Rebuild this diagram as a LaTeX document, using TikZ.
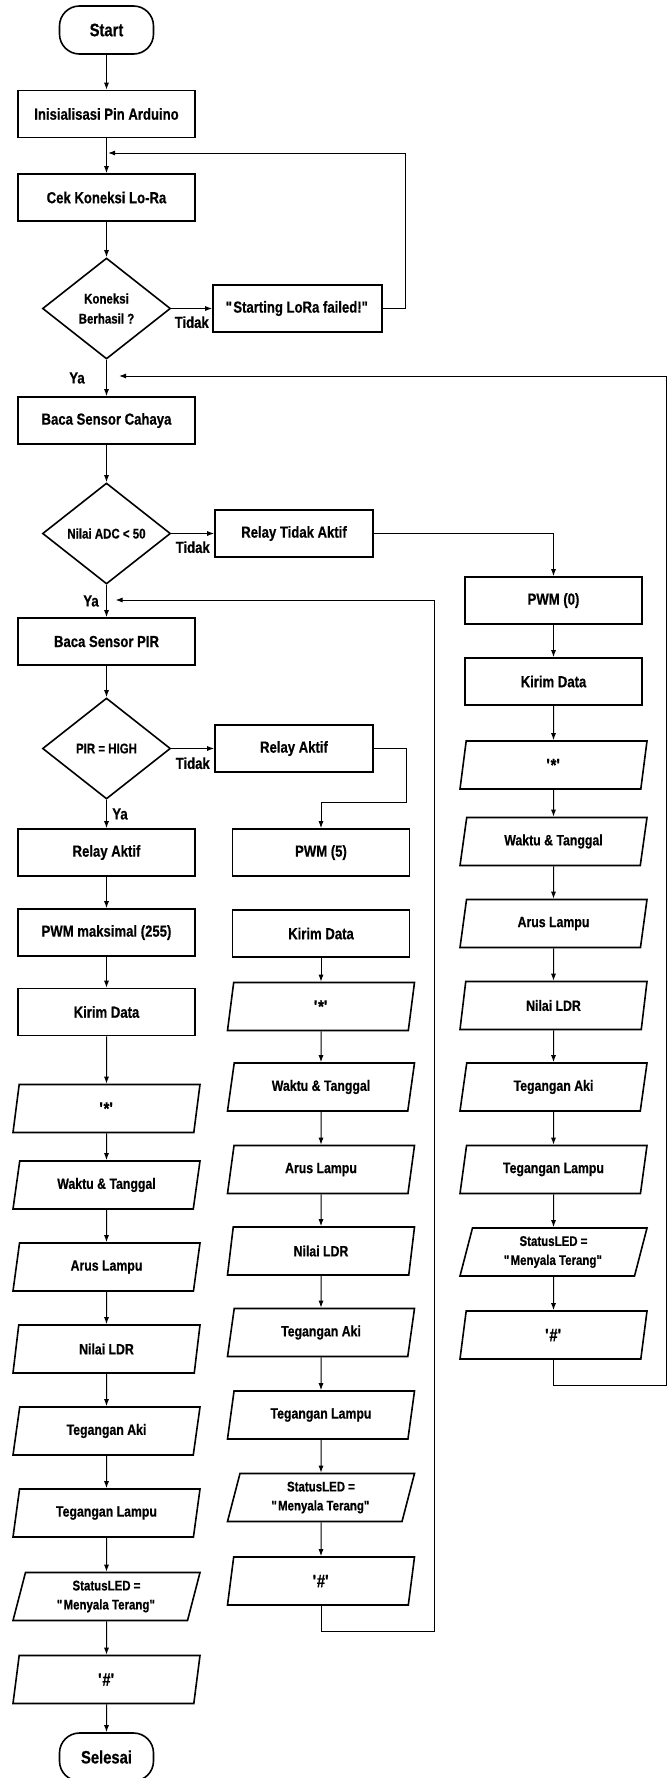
\documentclass[tikz,border=0pt]{standalone}
\usepackage{fontspec}
\setmainfont{Liberation Sans}[FakeStretch=0.82,BoldFeatures={FakeBold=0.6}]
\usetikzlibrary{arrows.meta,shapes.geometric,positioning}

\begin{document}
\begin{tikzpicture}[x=1pt,y=-1pt,node distance=82pt,on grid,line width=1pt,
    >={Latex[length=7pt,width=5pt]},
    term/.style={rectangle,rounded corners=20pt,draw,line width=1.6pt,minimum width=94pt,minimum height=48pt,font=\bfseries\fontsize{18}{20}\selectfont},
    proc/.style={rectangle,draw,line width=1.6pt,minimum width=177pt,minimum height=47pt,font=\bfseries\fontsize{16}{18}\selectfont},
    relay/.style={proc,minimum width=158pt},
    decision/.style={diamond,draw,line width=1.6pt,aspect=1.27,minimum width=128pt,minimum height=101pt,inner sep=0pt,align=center,font=\bfseries\fontsize{14}{20}\selectfont},
    io/.style={trapezium,trapezium left angle=72,trapezium right angle=108,trapezium stretches body,draw,line width=1.6pt,minimum width=187pt,minimum height=48pt,align=center,font=\bfseries\fontsize{15}{19}\selectfont},
    status/.style={font=\bfseries\fontsize{14}{19}\selectfont},
    pagar/.style={font=\bfseries\fontsize{18}{20}\selectfont},
    jawab/.style={font=\bfseries\fontsize{16}{18}\selectfont}]
    \useasboundingbox (0,0) rectangle (668,1778);
        % kolom kiri
        \node[term] (start) at (106.5,30) {Start};
        \node[proc] (init) [below=84pt of start] {Inisialisasi Pin Arduino};
        \node[proc] (cek) [below=83.5pt of init] {Cek Koneksi Lo-Ra};
        \node[decision] (koneksi) [below=111pt of cek] {Koneksi\\Berhasil ?};
        \node[proc,minimum width=169pt] (gagal) [right=191pt of koneksi] {\textquotedbl Starting LoRa failed!\textquotedbl};
        \node[proc] (cahaya) [below=112pt of koneksi] {Baca Sensor Cahaya};
        \node[decision] (adc) [below=113pt of cahaya] {Nilai ADC < 50};
        \node[relay] (relaymati) [right=187.5pt of adc] {Relay Tidak Aktif};
        \node[proc] (pir) [below=108pt of adc] {Baca Sensor PIR};
        \node[decision] (pirhigh) [below=107pt of pir] {PIR = HIGH};
        \node[relay] (relayhidup) [right=187.5pt of pirhigh] {Relay Aktif};
        \node[proc] (relaypenuh) [below=104pt of pirhigh] {Relay Aktif};
        \node[proc] (pwmmaks) [below=80pt of relaypenuh] {PWM maksimal (255)};
        \node[proc] (kirimA) [below=79.5pt of pwmmaks] {Kirim Data};
        \node[io,pagar] (bintangA) [below=96.5pt of kirimA] {\textquotesingle*\textquotesingle};
        \node[io] (waktuA) [below=76.5pt of bintangA] {Waktu \& Tanggal};
        \node[io] (arusA) [below=of waktuA] {Arus Lampu};
        \node[io] (ldrA) [below=of arusA] {Nilai LDR};
        \node[io] (akiA) [below=of ldrA] {Tegangan Aki};
        \node[io] (lampuA) [below=of akiA] {Tegangan Lampu};
        \node[io,status] (ledA) [below=83.5pt of lampuA] {StatusLED =\\\textquotedbl Menyala Terang\textquotedbl};
        \node[io,pagar] (pagarA) [below=83pt of ledA] {\textquotesingle\#\textquotesingle};
        \node[term] (selesai) [below=77.5pt of pagarA] {Selesai};
        % kolom tengah
        \node[proc] (pwmlima) [right=214.5pt of relaypenuh] {PWM (5)};
        \node[proc] (kirimB) [below=81pt of pwmlima] {Kirim Data};
        \node[io,pagar] (bintangB) [below=73pt of kirimB] {\textquotesingle*\textquotesingle};
        \node[io] (waktuB) [below=80.5pt of bintangB] {Waktu \& Tanggal};
        \node[io] (arusB) [below=82.5pt of waktuB] {Arus Lampu};
        \node[io] (ldrB) [below=81.5pt of arusB] {Nilai LDR};
        \node[io] (akiB) [below=81.5pt of ldrB] {Tegangan Aki};
        \node[io] (lampuB) [below=82.5pt of akiB] {Tegangan Lampu};
        \node[io,status] (ledB) [below=82.5pt of lampuB] {StatusLED =\\\textquotedbl Menyala Terang\textquotedbl};
        \node[io,pagar] (pagarB) [below=83.5pt of ledB] {\textquotesingle\#\textquotesingle};
        % kolom kanan
        \node[proc] (pwmnol) [below right=67pt and 259.5pt of relaymati] {PWM (0)};
        \node[proc] (kirimC) [below=81pt of pwmnol] {Kirim Data};
        \node[io,pagar] (bintangC) [below=83.5pt of kirimC] {\textquotesingle*\textquotesingle};
        \node[io] (waktuC) [below=76.5pt of bintangC] {Waktu \& Tanggal};
        \node[io] (arusC) [below=of waktuC] {Arus Lampu};
        \node[io] (ldrC) [below=of arusC] {Nilai LDR};
        \node[io] (akiC) [below=81.5pt of ldrC] {Tegangan Aki};
        \node[io] (lampuC) [below=82.5pt of akiC] {Tegangan Lampu};
        \node[io,status] (ledC) [below=82.5pt of lampuC] {StatusLED =\\\textquotedbl Menyala Terang\textquotedbl};
        \node[io,pagar] (pagarC) [below=83pt of ledC] {\textquotesingle\#\textquotesingle};
        % titik belok
        \coordinate (balik1) at (108,153);
        \coordinate (balik2) at (119,376);
        \coordinate (balik3) at (115.5,600);
        \coordinate (pojokA) at (405,153);
        \coordinate (pojokB) at (434,1631);
        \coordinate (pojokC) at (666,1385);
        \coordinate (siku) at (406.5,802);
        % panah
        \path[->] (start) edge (init);
        \path[->] (init) edge (cek);
        \path[->] (cek) edge (koneksi);
        \path[->] (koneksi) edge node[jawab,below,yshift=-4pt] {Tidak} (gagal);
        \path[->] (koneksi) edge node[jawab,left,xshift=-18pt] {Ya} (cahaya);
        \path[->] (cahaya) edge (adc);
        \path[->] (adc) edge node[jawab,below,yshift=-4pt] {Tidak} (relaymati);
        \path[->] (adc) edge node[jawab,left,xshift=-4pt] {Ya} (pir);
        \path[->] (pir) edge (pirhigh);
        \path[->] (pirhigh) edge node[jawab,below,yshift=-5pt] {Tidak} (relayhidup);
        \path[->] (pirhigh) edge node[jawab,right,xshift=2pt] {Ya} (relaypenuh);
        \path[->] (relaypenuh) edge (pwmmaks);
        \path[->] (pwmmaks) edge (kirimA);
        \path[->] (kirimA) edge (bintangA);
        \path[->] (bintangA) edge (waktuA);
        \path[->] (waktuA) edge (arusA);
        \path[->] (arusA) edge (ldrA);
        \path[->] (ldrA) edge (akiA);
        \path[->] (akiA) edge (lampuA);
        \path[->] (lampuA) edge (ledA);
        \path[->] (ledA) edge (pagarA);
        \path[->] (pagarA) edge (selesai);
        \path[->] (kirimB) edge (bintangB);
        \path[->] (bintangB) edge (waktuB);
        \path[->] (waktuB) edge (arusB);
        \path[->] (arusB) edge (ldrB);
        \path[->] (ldrB) edge (akiB);
        \path[->] (akiB) edge (lampuB);
        \path[->] (lampuB) edge (ledB);
        \path[->] (ledB) edge (pagarB);
        \path[->] (pwmnol) edge (kirimC);
        \path[->] (kirimC) edge (bintangC);
        \path[->] (bintangC) edge (waktuC);
        \path[->] (waktuC) edge (arusC);
        \path[->] (arusC) edge (ldrC);
        \path[->] (ldrC) edge (akiC);
        \path[->] (akiC) edge (lampuC);
        \path[->] (lampuC) edge (ledC);
        \path[->] (ledC) edge (pagarC);
        \draw[->] (gagal.east) -| (pojokA) -- (balik1);
        \draw[->] (relaymati.east) -| (pwmnol.north);
        \draw[->] (relayhidup.east) -| (siku) -| (pwmlima.north);
        \draw[->] (pagarB.south) |- (pojokB) |- (balik3);
        \draw[->] (pagarC.south) |- (pojokC) |- (balik2);
\end{tikzpicture}
\end{document}
